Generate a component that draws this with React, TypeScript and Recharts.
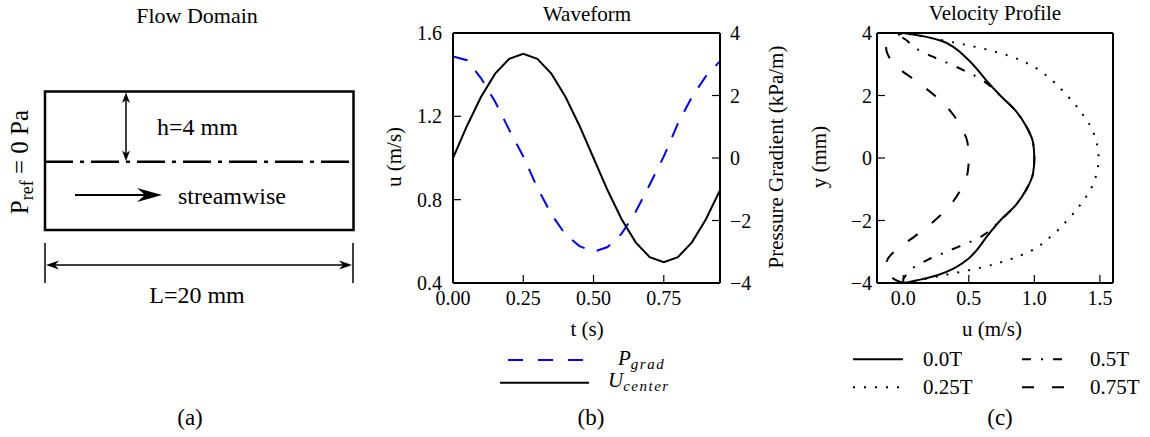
import React from 'react';
import { LineChart, Line, XAxis, YAxis } from 'recharts';

const FONT = '"Liberation Serif", "Times New Roman", serif';

// ---------- Panel (b): waveform ----------
const timeValues = [0, 0.05, 0.1, 0.15, 0.2, 0.25, 0.3, 0.35, 0.4, 0.45, 0.5, 0.55, 0.6, 0.65, 0.7, 0.75, 0.8, 0.85, 0.9, 0.95];
const uCenterValues = [1.0, 1.155, 1.294, 1.405, 1.476, 1.5, 1.476, 1.405, 1.294, 1.155, 1.0, 0.845, 0.706, 0.595, 0.524, 0.5, 0.524, 0.595, 0.706, 0.845];
const pGradValues = [3.25, 3.13, 2.55, 1.8, 0.9, 0.05, -0.95, -1.8, -2.45, -2.82, -3.0, -2.85, -2.42, -1.72, -0.85, 0.05, 1.1, 1.95, 2.62, 3.1];
const timeTicks = [0, 0.25, 0.5, 0.75];
const uTicks = [0.4, 0.8, 1.2, 1.6];
const pTicks = [-4, -2, 0, 2, 4];

// ---------- Panel (c): velocity profiles ----------
const yPositions = [-4, -3.9, -3.75, -3.5, -3.25, -3, -2.5, -2, -1.5, -1, -0.5, 0, 0.5, 1, 1.5, 2, 2.5, 3, 3.25, 3.5, 3.75, 3.9, 4];
const profile00T = [0, 0.12, 0.26, 0.4, 0.49, 0.55, 0.64, 0.74, 0.86, 0.94, 0.99, 1.0, 0.99, 0.94, 0.86, 0.74, 0.63, 0.53, 0.47, 0.4, 0.29, 0.15, 0];
const profile025T = [0, 0.13, 0.31, 0.6, 0.81, 0.96, 1.13, 1.25, 1.35, 1.43, 1.475, 1.49, 1.475, 1.43, 1.35, 1.25, 1.13, 0.96, 0.82, 0.61, 0.32, 0.13, 0];
const profile05T = [0, 0.0, 0.02, 0.08, 0.19, 0.33, 0.6, 0.74, 0.86, 0.94, 0.99, 1.0, 0.99, 0.94, 0.86, 0.74, 0.6, 0.36, 0.22, 0.1, 0.03, -0.01, 0];
const profile075T = [0, -0.06, -0.1, -0.13, -0.12, -0.07, 0.09, 0.24, 0.36, 0.44, 0.49, 0.5, 0.49, 0.44, 0.36, 0.24, 0.085, -0.07, -0.11, -0.13, -0.11, -0.06, 0];
const yTicks = [-4, -2, 0, 2, 4];
const profileUTicks = [0, 0.5, 1, 1.5];

const waveData = timeValues.map((t, i) => ({ t, u: uCenterValues[i], p: pGradValues[i] }));
const profileData = yPositions.map((y, i) => ({
  y,
  a: profile00T[i],
  b: profile025T[i],
  c: profile05T[i],
  d: profile075T[i],
}));

const tickStyle = { fill: '#000', fontSize: 20, fontFamily: FONT };
const axisLineStyle = { stroke: '#000', strokeWidth: 2 };
const tickLineStyle = { stroke: '#000', strokeWidth: 1.2 };
const fmt = (v: number, digits: number) => {
  const s = Math.abs(v).toFixed(digits);
  return v < 0 ? '\u2212' + s : s;
};

const DASH_P = '15 13';
const DOTTED = '2 9';
const DASHDOT = '9 10 2 10';
const DASHED = '12 18';

function Overlay() {
  const t = { fontFamily: FONT, fill: '#000' } as const;
  return (
    <svg width={1150} height={437} style={{ position: 'absolute', left: 0, top: 0 }}>
      {/* Panel (a) */}
      <text x={197} y={23} fontSize={22} textAnchor="middle" {...t}>Flow Domain</text>
      <rect x={45} y={91.5} width={308.5} height={138.5} fill="none" stroke="#000" strokeWidth={2.5} />
      <line x1={45} y1={161.7} x2={353} y2={161.7} stroke="#000" strokeWidth={2.5} strokeDasharray="28 7 4 7" />
      {/* h arrow */}
      <line x1={126} y1={96} x2={126} y2={157} stroke="#000" strokeWidth={1.5} />
      <polygon points="126,92.5 122,103 126,100 130,103" fill="#000" />
      <polygon points="126,161 122,150.5 126,153.5 130,150.5" fill="#000" />
      <text x={157} y={135} fontSize={24} {...t}>h=4 mm</text>
      {/* streamwise arrow */}
      <line x1={75} y1={195} x2={150} y2={195} stroke="#000" strokeWidth={2} />
      <polygon points="162,195 137,188 145,195 137,202" fill="#000" />
      <text x={178} y={204} fontSize={24} {...t}>streamwise</text>
      {/* Pref label */}
      <text transform="translate(28,162) rotate(-90)" textAnchor="middle" fontSize={25} {...t}>
        P<tspan fontSize={18} dy={5}>ref</tspan><tspan dy={-5} fontSize={25}> = 0 Pa</tspan>
      </text>
      {/* L dimension */}
      <line x1={45} y1={243} x2={45} y2={283} stroke="#000" strokeWidth={1.5} />
      <line x1={353} y1={243} x2={353} y2={283} stroke="#000" strokeWidth={1.5} />
      <line x1={50} y1={265} x2={348} y2={265} stroke="#000" strokeWidth={1.5} />
      <polygon points="46,265 59,260.5 55,265 59,269.5" fill="#000" />
      <polygon points="352,265 339,260.5 343,265 339,269.5" fill="#000" />
      <text x={197} y={303} fontSize={24} textAnchor="middle" {...t}>L=20 mm</text>
      <text x={190} y={425} fontSize={23} textAnchor="middle" {...t}>(a)</text>

      {/* Panel (b) texts */}
      <text x={587} y={21} fontSize={21} textAnchor="middle" {...t}>Waveform</text>
      <text transform="translate(401,157) rotate(-90)" fontSize={21} textAnchor="middle" {...t}>u (m/s)</text>
      <text transform="translate(783,157) rotate(-90)" fontSize={21} textAnchor="middle" {...t}>Pressure Gradient (kPa/m)</text>
      <text x={587} y={336} fontSize={21} textAnchor="middle" {...t}>t (s)</text>
      <line x1={508} y1={360} x2={583} y2={360} stroke="#0000ff" strokeWidth={2} strokeDasharray="15 15" />
      <line x1={500} y1={382.7} x2={589} y2={382.7} stroke="#000" strokeWidth={2} />
      <text x={618} y={365} fontSize={21} fontStyle="italic" {...t}>
        P<tspan fontSize={15} dy={4} letterSpacing={1.5}>grad</tspan>
      </text>
      <text x={608} y={387} fontSize={21} fontStyle="italic" {...t}>
        U<tspan fontSize={15} dy={4} letterSpacing={1.5}>center</tspan>
      </text>
      <text x={591} y={425} fontSize={23} textAnchor="middle" {...t}>(b)</text>

      {/* Panel (c) texts */}
      <text x={995} y={20} fontSize={21} textAnchor="middle" {...t}>Velocity Profile</text>
      <text transform="translate(826,157) rotate(-90)" fontSize={21} textAnchor="middle" {...t}>y (mm)</text>
      <text x={992} y={336} fontSize={21} textAnchor="middle" {...t}>u (m/s)</text>
      <line x1={853} y1={359.3} x2={903} y2={359.3} stroke="#000" strokeWidth={2} />
      <text x={923} y={366} fontSize={21} {...t}>0.0T</text>
      <line x1={853} y1={387.3} x2={899} y2={387.3} stroke="#000" strokeWidth={2} strokeDasharray={DOTTED} />
      <text x={923} y={394} fontSize={21} {...t}>0.25T</text>
      <line x1={1022} y1={359.3} x2={1062} y2={359.3} stroke="#000" strokeWidth={2} strokeDasharray={DASHDOT} />
      <text x={1090} y={366} fontSize={21} {...t}>0.5T</text>
      <line x1={1022} y1={387.3} x2={1066} y2={387.3} stroke="#000" strokeWidth={2} strokeDasharray={DASHED} />
      <text x={1090} y={394} fontSize={21} {...t}>0.75T</text>
      <text x={1000} y={425} fontSize={23} textAnchor="middle" {...t}>(c)</text>
    </svg>
  );
}

function WaveformChart() {
  return (
    <div style={{ position: 'absolute', left: 380, top: 0 }}>
      <LineChart width={420} height={437} data={waveData} margin={{ top: 23, right: 40, bottom: 124, left: 33 }}>
        <XAxis
          xAxisId="bottom" dataKey="t" type="number" domain={[0, 0.95]} ticks={timeTicks} interval={0}
          allowDataOverflow height={30} tick={tickStyle} tickFormatter={(v: number) => v.toFixed(2)}
          tickSize={-8} tickMargin={16} axisLine={axisLineStyle} tickLine={tickLineStyle}
        />
        <XAxis
          xAxisId="top" orientation="top" dataKey="t" type="number" domain={[0, 0.95]} ticks={timeTicks} interval={0}
          allowDataOverflow height={10} tick={false} tickSize={-8} axisLine={axisLineStyle} tickLine={tickLineStyle}
        />
        <YAxis
          yAxisId="left" type="number" domain={[0.4, 1.6]} ticks={uTicks} interval={0} allowDataOverflow width={40}
          tick={tickStyle} tickFormatter={(v: number) => v.toFixed(1)} tickSize={-8} tickMargin={19}
          axisLine={axisLineStyle} tickLine={tickLineStyle}
        />
        <YAxis
          yAxisId="right" orientation="right" type="number" domain={[-4, 4]} ticks={pTicks} interval={0} allowDataOverflow
          width={40} tick={tickStyle} tickFormatter={(v: number) => fmt(v, 0)} tickSize={-8} tickMargin={18}
          axisLine={axisLineStyle} tickLine={tickLineStyle}
        />
        <Line xAxisId="bottom" yAxisId="right" dataKey="p" type="linear" stroke="#0000ff" strokeWidth={2}
          strokeDasharray={DASH_P} dot={false} isAnimationActive={false} />
        <Line xAxisId="bottom" yAxisId="left" dataKey="u" type="linear" stroke="#000" strokeWidth={2}
          dot={false} isAnimationActive={false} />
      </LineChart>
    </div>
  );
}

function ProfileChart() {
  return (
    <div style={{ position: 'absolute', left: 790, top: 0 }}>
      <LineChart layout="vertical" width={360} height={437} data={profileData} margin={{ top: 23, right: 27, bottom: 124, left: 47 }}>
        <XAxis
          xAxisId="bottom" type="number" domain={[-0.2, 1.6]} ticks={profileUTicks} interval={0} allowDataOverflow
          height={30} tick={tickStyle} tickFormatter={(v: number) => fmt(v, 1)} tickSize={-8} tickMargin={16}
          axisLine={axisLineStyle} tickLine={tickLineStyle}
        />
        <XAxis
          xAxisId="top" orientation="top" type="number" domain={[-0.2, 1.6]} ticks={profileUTicks} interval={0}
          allowDataOverflow height={10} tick={false} tickSize={-8} axisLine={axisLineStyle} tickLine={tickLineStyle}
        />
        <YAxis
          yAxisId="left" dataKey="y" type="number" domain={[-4, 4]} ticks={yTicks} interval={0} allowDataOverflow reversed
          width={40} tick={tickStyle} tickFormatter={(v: number) => fmt(v, 0)} tickSize={-8} tickMargin={13}
          axisLine={axisLineStyle} tickLine={tickLineStyle}
        />
        <YAxis
          yAxisId="right" orientation="right" dataKey="y" type="number" domain={[-4, 4]} ticks={yTicks} interval={0}
          allowDataOverflow reversed width={10} tick={false} tickSize={-8} axisLine={axisLineStyle} tickLine={tickLineStyle}
        />
        <Line xAxisId="bottom" yAxisId="left" dataKey="b" type="monotone" stroke="#000" strokeWidth={2}
          strokeDasharray={DOTTED} dot={false} isAnimationActive={false} />
        <Line xAxisId="bottom" yAxisId="left" dataKey="d" type="monotone" stroke="#000" strokeWidth={2}
          strokeDasharray={DASHED} dot={false} isAnimationActive={false} />
        <Line xAxisId="bottom" yAxisId="left" dataKey="c" type="monotone" stroke="#000" strokeWidth={2}
          strokeDasharray={DASHDOT} dot={false} isAnimationActive={false} />
        <Line xAxisId="bottom" yAxisId="left" dataKey="a" type="monotone" stroke="#000" strokeWidth={2}
          dot={false} isAnimationActive={false} />
      </LineChart>
    </div>
  );
}

export default function App() {
  return (
    <div style={{ position: 'absolute', left: 0, top: 0, width: 1150, height: 437, background: '#fff', overflow: 'hidden' }}>
      <Overlay />
      <WaveformChart />
      <ProfileChart />
    </div>
  );
}
